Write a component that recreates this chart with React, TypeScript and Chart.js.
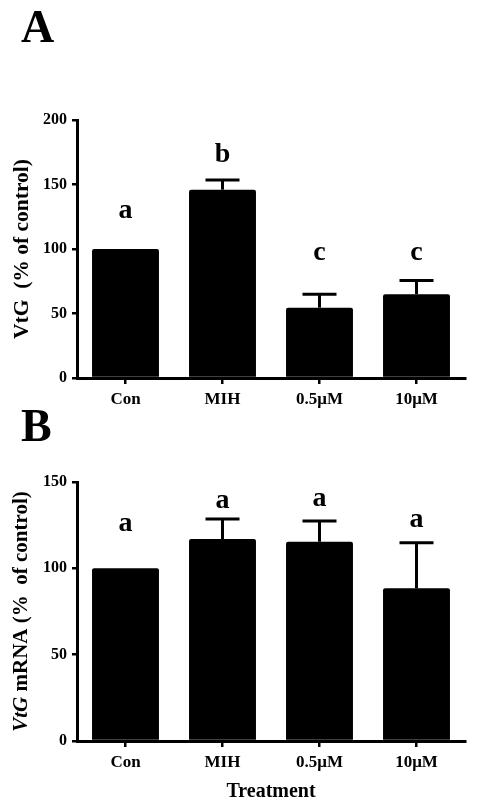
import React, { useEffect, useRef } from 'react';
import { Chart, registerables } from 'chart.js';

Chart.register(...registerables);

const categories = ['Con', 'MIH', '0.5\u03bcM', '10\u03bcM'];

const vtgMeans = [100, 146, 54.5, 65];
const vtgSE = [0, 7.5, 10.5, 10.5];
const vtgLetters = ['a', 'b', 'c', 'c'];
const vtgLetterLevel = [130, 173, 97, 97];
const vtgTicks = [0, 50, 100, 150, 200];

const mrnaMeans = [100, 117, 115.4, 88.4];
const mrnaSE = [0, 11.5, 12, 26.4];
const mrnaLetters = ['a', 'a', 'a', 'a'];
const mrnaLetterLevel = [126, 139, 140.5, 128];
const mrnaTicks = [0, 50, 100, 150];

const SERIF = '"Liberation Serif", "Times New Roman", serif';

type Seg = { text: string; italic?: boolean };

interface PanelSpec {
  width: number;
  height: number;
  padTop: number;
  xAxisHeight: number;
  means: number[];
  se: number[];
  letters: string[];
  letterLevel: number[];
  ticks: number[];
  panel: string;
  panelBaseline: number;
  yTitle: Seg[];
  yTitleSize: number;
  xTitle?: string;
  xTitleY?: number;
}

function makeOverlay(spec: PanelSpec) {
  return {
    id: 'overlay',
    afterDatasetsDraw(chart: any) {
      const ctx = chart.ctx as CanvasRenderingContext2D;
      const yScale = chart.scales.y;
      const meta = chart.getDatasetMeta(0);
      ctx.save();
      ctx.strokeStyle = '#000';
      ctx.fillStyle = '#000';
      meta.data.forEach((bar: any, i: number) => {
        const x = bar.x;
        if (spec.se[i] > 0) {
          const yTop = yScale.getPixelForValue(spec.means[i] + spec.se[i]);
          const yBar = yScale.getPixelForValue(spec.means[i]);
          ctx.lineWidth = 3;
          ctx.beginPath();
          ctx.moveTo(x, yBar);
          ctx.lineTo(x, yTop);
          ctx.stroke();
          ctx.beginPath();
          ctx.moveTo(x - 17, yTop);
          ctx.lineTo(x + 17, yTop);
          ctx.stroke();
        }
        ctx.font = `bold 28px ${SERIF}`;
        ctx.textAlign = 'center';
        ctx.textBaseline = 'middle';
        ctx.fillText(spec.letters[i], x, yScale.getPixelForValue(spec.letterLevel[i]));
      });
      ctx.restore();
    },
    afterDraw(chart: any) {
      const ctx = chart.ctx as CanvasRenderingContext2D;
      const area = chart.chartArea;
      ctx.save();
      ctx.fillStyle = '#000';
      // panel letter
      ctx.font = `bold 46px ${SERIF}`;
      ctx.textAlign = 'left';
      ctx.textBaseline = 'alphabetic';
      ctx.fillText(spec.panel, 21, spec.panelBaseline);
      // y title
      const fontFor = (s: Seg) => `${s.italic ? 'italic ' : ''}bold ${spec.yTitleSize}px ${SERIF}`;
      let total = 0;
      spec.yTitle.forEach((s) => {
        ctx.font = fontFor(s);
        total += ctx.measureText(s.text).width;
      });
      ctx.translate(22, (area.top + area.bottom) / 2);
      ctx.rotate(-Math.PI / 2);
      ctx.textBaseline = 'middle';
      let pos = -total / 2;
      spec.yTitle.forEach((s) => {
        ctx.font = fontFor(s);
        ctx.fillText(s.text, pos, 0);
        pos += ctx.measureText(s.text).width;
      });
      ctx.restore();
      if (spec.xTitle) {
        ctx.save();
        ctx.fillStyle = '#000';
        ctx.font = `bold 20px ${SERIF}`;
        ctx.textAlign = 'center';
        ctx.textBaseline = 'middle';
        ctx.fillText(spec.xTitle, (area.left + area.right) / 2, spec.xTitleY || 0);
        ctx.restore();
      }
    },
  };
}

function Panel({ spec, top }: { spec: PanelSpec; top: number }) {
  const ref = useRef<HTMLCanvasElement | null>(null);
  useEffect(() => {
    if (!ref.current) return;
    const axisFontY = { family: SERIF, weight: 'bold' as const, size: 16 };
    const axisFontX = { family: SERIF, weight: 'bold' as const, size: 17 };
    const chart = new Chart(ref.current, {
      type: 'bar',
      data: {
        labels: categories,
        datasets: [
          {
            data: spec.means,
            backgroundColor: '#000',
            borderRadius: 2,
            barPercentage: 0.69,
            categoryPercentage: 1,
          },
        ],
      },
      options: {
        responsive: false,
        animation: false,
        layout: { padding: { top: spec.padTop, right: 24, left: 0, bottom: 0 } },
        plugins: {
          legend: { display: false },
          tooltip: { enabled: false },
          title: { display: false },
        },
        scales: {
          x: {
            offset: true,
            grid: {
              offset: false,
              drawOnChartArea: false,
              drawTicks: true,
              tickLength: 6,
              color: '#000',
              lineWidth: 2.5,
            },
            border: { display: true, color: '#000', width: 3 },
            ticks: { color: '#000', font: axisFontX, padding: 5, maxRotation: 0, autoSkip: false },
            afterFit: (s: any) => {
              s.height = spec.xAxisHeight;
            },
          },
          y: {
            min: 0,
            max: spec.ticks[spec.ticks.length - 1],
            afterBuildTicks: (s: any) => {
              s.ticks = spec.ticks.map((v) => ({ value: v }));
            },
            grid: {
              drawOnChartArea: false,
              drawTicks: true,
              tickLength: 5,
              color: '#000',
              lineWidth: 2.5,
            },
            border: { display: true, color: '#000', width: 3 },
            ticks: { color: '#000', font: axisFontY, padding: 5 },
            afterFit: (s: any) => {
              s.width = 77;
            },
          },
        },
      } as any,
      plugins: [makeOverlay(spec) as any],
    });
    return () => chart.destroy();
  }, [spec]);
  return (
    <canvas
      ref={ref}
      width={spec.width}
      height={spec.height}
      style={{ position: 'absolute', left: 0, top, width: spec.width, height: spec.height }}
    />
  );
}

const specA: PanelSpec = {
  width: 489,
  height: 420,
  padTop: 120,
  xAxisHeight: 42,
  means: vtgMeans,
  se: vtgSE,
  letters: vtgLetters,
  letterLevel: vtgLetterLevel,
  ticks: vtgTicks,
  panel: 'A',
  panelBaseline: 42,
  yTitle: [{ text: 'VtG  (% of control)' }],
  yTitleSize: 21.5,
};

const specB: PanelSpec = {
  width: 489,
  height: 400,
  padTop: 82,
  xAxisHeight: 59,
  means: mrnaMeans,
  se: mrnaSE,
  letters: mrnaLetters,
  letterLevel: mrnaLetterLevel,
  ticks: mrnaTicks,
  panel: 'B',
  panelBaseline: 41,
  yTitle: [{ text: 'VtG', italic: true }, { text: ' mRNA (%  of control)' }],
  yTitleSize: 21,
  xTitle: 'Treatment',
  xTitleY: 392,
};

export default function App() {
  return (
    <div
      style={{
        position: 'absolute',
        left: 0,
        top: 0,
        width: 489,
        height: 800,
        background: '#fff',
        overflow: 'hidden',
      }}
    >
      <Panel spec={specA} top={0} />
      <Panel spec={specB} top={400} />
    </div>
  );
}
